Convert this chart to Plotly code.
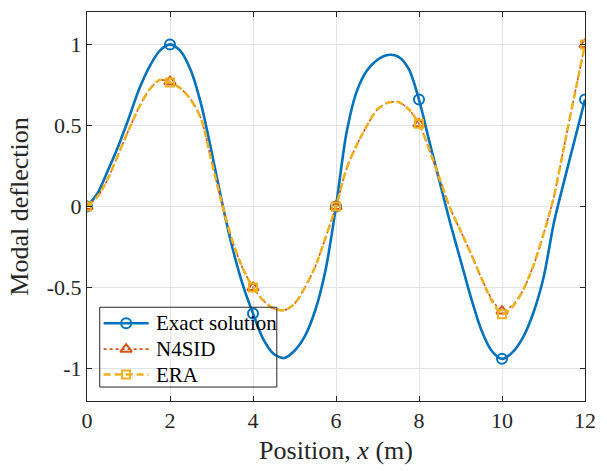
import plotly.graph_objects as go

# Positions (m)
x_pos = [0, 0.25, 0.5, 0.75, 1.0, 1.25, 1.5, 1.75, 2.0, 2.25, 2.5, 2.75, 3.0, 3.25, 3.5, 3.75,
         4.0, 4.25, 4.5, 4.75, 5.0, 5.25, 5.5, 5.75, 6.0, 6.25, 6.5, 6.75, 7.0, 7.25, 7.5, 7.75,
         8.0, 8.25, 8.5, 8.75, 9.0, 9.25, 9.5, 9.75, 10.0, 10.25, 10.5, 10.75, 11.0, 11.25, 11.5, 11.75, 12.0]

exact = [0, 0.08, 0.22, 0.37, 0.54, 0.72, 0.86, 0.96, 1.0, 0.96, 0.84, 0.63, 0.34, 0.03, -0.25, -0.48,
         -0.66, -0.82, -0.91, -0.935, -0.89, -0.80, -0.64, -0.39, 0.0, 0.45, 0.71, 0.84, 0.905, 0.935, 0.925, 0.85,
         0.66, 0.40, 0.15, -0.10, -0.33, -0.56, -0.76, -0.89, -0.94, -0.90, -0.81, -0.66, -0.44, -0.10, 0.16, 0.41, 0.66]

n4sid = [0, 0.06, 0.17, 0.32, 0.47, 0.61, 0.72, 0.78, 0.77, 0.73, 0.66, 0.54, 0.28, 0.02, -0.21, -0.38,
         -0.50, -0.58, -0.63, -0.64, -0.60, -0.50, -0.37, -0.19, 0.0, 0.23, 0.38, 0.50, 0.60, 0.64, 0.645, 0.60,
         0.51, 0.35, 0.17, -0.01, -0.15, -0.29, -0.44, -0.57, -0.645, -0.61, -0.52, -0.37, -0.17, 0.06, 0.375, 0.69, 1.0]

era = [0, 0.06, 0.17, 0.32, 0.47, 0.61, 0.72, 0.78, 0.765, 0.73, 0.66, 0.54, 0.28, 0.02, -0.21, -0.38,
       -0.50, -0.58, -0.63, -0.64, -0.60, -0.50, -0.37, -0.19, 0.0, 0.23, 0.38, 0.50, 0.60, 0.64, 0.645, 0.60,
       0.51, 0.35, 0.17, -0.01, -0.15, -0.29, -0.44, -0.58, -0.665, -0.62, -0.52, -0.37, -0.17, 0.06, 0.375, 0.69, 1.0]

marker_x = [0, 2, 4, 6, 8, 10, 12]
x_ticks = [0, 2, 4, 6, 8, 10, 12]
y_ticks = [-1, -0.5, 0, 0.5, 1]
y_ticklabels = ["-1", "-0.5", "0", "0.5", "1"]

names = ["Exact solution", "N4SID", "ERA"]
colors = ["#0072BD", "#D95319", "#EDB120"]

def at_marks(series):
    return [series[x_pos.index(m)] for m in marker_x]

FONT = "'Liberation Serif', 'Times New Roman', Times, serif"
INK = "#262626"
fig = go.Figure()

series = [exact, n4sid, era]
line_styles = [dict(width=2.6, dash="solid"),
               dict(width=1.6, dash="dot"),
               dict(width=2.6, dash="7px,4px")]
symbols = ["circle-open", "triangle-up-open", "square-open"]
msizes = [10, 10, 8]

for s, nm, c, ls, sym, ms in zip(series, names, colors, line_styles, symbols, msizes):
    fig.add_trace(go.Scatter(x=x_pos, y=s, mode="lines", name=nm,
                             line=dict(color=c, shape="spline", smoothing=0.8, **ls),
                             showlegend=False, hoverinfo="skip"))
    fig.add_trace(go.Scatter(x=marker_x, y=at_marks(s), mode="markers", name=nm,
                             marker=dict(symbol=sym, size=ms, color=c, line=dict(color=c, width=2)),
                             showlegend=False))

# ---- legend drawn in an overlay pixel frame (plot area: x 87..596, y 12..402) ----
leg_rows = [324, 350, 375.5]
leg_x0, leg_x1, leg_xm, leg_tx = 104, 150, 127, 155
for yrow, nm, c, ls, sym, ms in zip(leg_rows, names, colors, line_styles, symbols, msizes):
    fig.add_trace(go.Scatter(x=[leg_x0, leg_x1], y=[yrow, yrow], xaxis="x2", yaxis="y2",
                             mode="lines", line=dict(color=c, **ls), showlegend=False, hoverinfo="skip"))
    fig.add_trace(go.Scatter(x=[leg_xm], y=[yrow], xaxis="x2", yaxis="y2", mode="markers",
                             marker=dict(symbol=sym, size=ms, color=c, line=dict(color=c, width=2)),
                             showlegend=False, hoverinfo="skip"))
    fig.add_annotation(x=leg_tx, y=yrow, xref="x2", yref="y2", text=nm, showarrow=False,
                       xanchor="left", yanchor="middle",
                       font=dict(family=FONT, size=21, color="#000000"))
fig.add_shape(type="rect", xref="x2", yref="y2", x0=100, x1=281, y0=308, y1=388,
              line=dict(color=INK, width=1), fillcolor="rgba(0,0,0,0)", layer="above")

axis_common = dict(showgrid=True, gridcolor="#e3e3e3", gridwidth=1,
                   showline=True, linecolor=INK, linewidth=1, mirror="ticks",
                   ticks="inside", ticklen=5, tickcolor=INK, zeroline=False,
                   tickfont=dict(family=FONT, size=22, color=INK))

fig.update_layout(
    width=607, height=471,
    margin=dict(l=87, r=11, t=12, b=69),
    plot_bgcolor="white", paper_bgcolor="white",
    font=dict(family=FONT, color=INK),
    showlegend=False,
    xaxis=dict(range=[0, 12], tickvals=x_ticks,
               title=dict(text="Position, <i>x</i> (m)", font=dict(family=FONT, size=26, color=INK), standoff=8),
               **axis_common),
    yaxis=dict(range=[-1.2, 1.2], tickvals=y_ticks, ticktext=y_ticklabels,
               title=dict(text="Modal deflection", font=dict(family=FONT, size=26, color=INK), standoff=10),
               **axis_common),
    xaxis2=dict(range=[87, 596], overlaying="x", anchor="y2", visible=False, fixedrange=True),
    yaxis2=dict(range=[402, 12], overlaying="y", anchor="x2", visible=False, fixedrange=True),
)

fig.write_html("out.html")
